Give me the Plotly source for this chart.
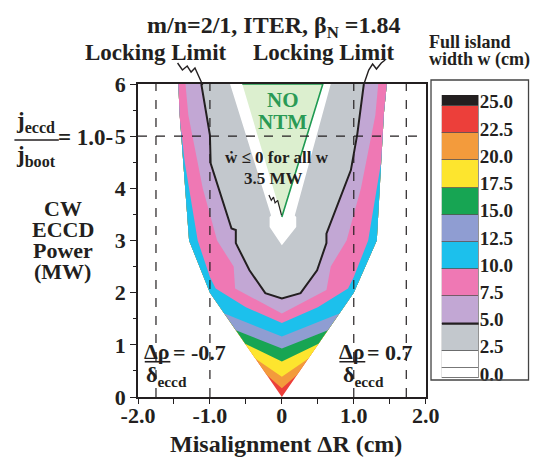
import plotly.graph_objects as go

# ---------------- data ----------------
# Island-width contour boundaries in (misalignment ΔR [cm], ECCD power [MW]).
# Inside each V-shaped boundary w is below the level; traced left-top -> centre -> right-top.
env_x = [-1.44, -1.42, -1.29, -1.00, 0.00, 1.00, 1.32, 1.42, 1.46]
env_y = [6.00, 5.40, 3.00, 2.00, 0.00, 2.00, 3.00, 5.45, 6.00]

c22_x = [-1.44, -1.42, -1.29, -1.00, -0.21, 0.00, 0.21, 1.00, 1.32, 1.42, 1.46]
c22_y = [6.00, 5.40, 3.00, 2.00, 0.42, 0.17, 0.42, 2.00, 3.00, 5.45, 6.00]
c20_x = [-1.44, -1.42, -1.29, -1.00, -0.37, 0.00, 0.37, 1.00, 1.32, 1.42, 1.46]
c20_y = [6.00, 5.40, 3.00, 2.00, 0.74, 0.39, 0.74, 2.00, 3.00, 5.45, 6.00]
c17_x = [-1.44, -1.42, -1.29, -1.00, -0.51, 0.00, 0.51, 1.00, 1.32, 1.42, 1.46]
c17_y = [6.00, 5.40, 3.00, 2.00, 1.02, 0.68, 1.02, 2.00, 3.00, 5.45, 6.00]
c15_x = [-1.44, -1.42, -1.29, -1.00, -0.64, 0.00, 0.64, 1.00, 1.32, 1.42, 1.46]
c15_y = [6.00, 5.40, 3.00, 2.00, 1.28, 0.93, 1.28, 2.00, 3.00, 5.45, 6.00]
c12_x = [-1.44, -1.42, -1.29, -1.00, -0.80, 0.00, 0.80, 1.00, 1.32, 1.42, 1.46]
c12_y = [6.00, 5.40, 3.00, 2.00, 1.60, 1.16, 1.60, 2.00, 3.00, 5.45, 6.00]
c10_x = [-1.44, -1.42, -1.35, -1.17, -1.00, -0.92, -0.50, 0.00, 0.50, 0.92, 1.00, 1.20, 1.38, 1.42, 1.46]
c10_y = [6.00, 5.35, 4.50, 3.00, 2.30, 2.08, 1.72, 1.42, 1.72, 2.08, 2.30, 3.00, 4.50, 5.45, 6.00]
c7_x = [-1.34, -1.30, -1.10, -0.90, -0.67, -0.65, 0.00, 0.62, 0.68, 0.90, 1.10, 1.30, 1.34]
c7_y = [6.00, 5.40, 4.00, 3.00, 2.50, 2.08, 1.60, 2.05, 2.50, 3.00, 4.00, 5.40, 6.00]
c5_x = [-1.12, -1.00, -0.99, -0.70, -0.64, -0.64, -0.45, -0.23, 0.00, 0.26, 0.49, 0.62, 0.62, 0.96, 1.05, 1.14]
c5_y = [6.00, 5.02, 4.48, 3.23, 3.20, 2.95, 2.43, 1.99, 1.89, 1.99, 2.43, 2.95, 3.13, 4.35, 5.05, 6.00]
c2_x = [-0.72, -0.15, -0.17, -0.17, 0.00, 0.20, 0.20, 0.18, 0.68]
c2_y = [6.00, 3.48, 3.45, 3.26, 2.91, 3.26, 3.45, 3.48, 6.00]

# "NO NTM" region
nontm_x = [-0.55, 0.57, 0.00]
nontm_y = [6.00, 6.00, 3.45]

# pointer from "3.5 MW" to the triangle tip
ptr_x = [-0.18, -0.147, -0.116, -0.094, -0.058, -0.027, -0.004]
ptr_y = [3.87, 3.77, 3.83, 3.72, 3.77, 3.61, 3.48]

# dashed guide lines
vguides = [-1.75, -1.0, 1.0, 1.73]
hguide = 5.0

# legend (colour key), bottom -> top
key_labels = ["0.0", "2.5", "5.0", "7.5", "10.0", "12.5", "15.0", "17.5", "20.0", "22.5", "25.0"]
key_colors = ["#ffffff", "#ffffff", "#c3c8cd", "#c2a7d4", "#ef78b4", "#1cc0ec",
              "#8f9dd2", "#17a553", "#fde52e", "#f39b3c", "#ec3f3a", "#231f20"]
key_sizes = [0.37, 0.63, 1, 1, 1, 1, 1, 1, 1, 1, 1, 0.4]

BLACK = "#231f20"
FONT = "Liberation Serif"

band_fill = [
    (env_x, env_y, "#ec3f3a"),
    (c22_x, c22_y, "#f39b3c"),
    (c20_x, c20_y, "#fde52e"),
    (c17_x, c17_y, "#17a553"),
    (c15_x, c15_y, "#8f9dd2"),
    (c12_x, c12_y, "#1cc0ec"),
    (c10_x, c10_y, "#ef78b4"),
    (c7_x, c7_y, "#c2a7d4"),
]

fig = go.Figure()
for xs, ys, col in band_fill:
    fig.add_trace(go.Scatter(x=xs, y=ys, fill="toself", fillcolor=col, mode="lines",
                             line=dict(width=0, color=col), hoverinfo="skip", showlegend=False))
fig.add_trace(go.Scatter(x=c5_x, y=c5_y, fill="toself", fillcolor="#c3c8cd", mode="lines",
                         line=dict(width=2, color=BLACK), showlegend=False))
fig.add_trace(go.Scatter(x=c2_x, y=c2_y, fill="toself", fillcolor="#ffffff", mode="lines",
                         line=dict(width=0, color="#ffffff"), showlegend=False))
fig.add_trace(go.Scatter(x=nontm_x, y=nontm_y, fill="toself", fillcolor="#dcefcf", mode="lines",
                         line=dict(width=1.6, color="#1f9a52"), showlegend=False))
fig.add_trace(go.Scatter(x=ptr_x, y=ptr_y, mode="lines", line=dict(width=1.2, color=BLACK),
                         showlegend=False))

# colour key as stacked bars on its own axes
for h, c in zip(key_sizes, key_colors):
    fig.add_trace(go.Bar(x=[0], y=[h], marker=dict(color=c, line=dict(color="#555555", width=0.8)),
                         width=1, xaxis="x2", yaxis="y2", showlegend=False, hoverinfo="skip"))
key_bounds = [0.0]
acc = key_sizes[0]
for h in key_sizes[1:-1]:
    acc += h
    key_bounds.append(round(acc, 3))
key_label_pos = [b + 0.15 for b in key_bounds]

for xv in vguides:
    fig.add_shape(type="line", x0=xv, x1=xv, y0=0, y1=6, xref="x", yref="y",
                  line=dict(color=BLACK, width=1.2, dash="dash"), layer="above")
fig.add_shape(type="line", x0=-2, x1=2, y0=hguide, y1=hguide, xref="x", yref="y",
              line=dict(color=BLACK, width=1.2, dash="dash"), layer="above")

# thick line at w = 5 in the key
fig.add_shape(type="line", x0=-0.5, x1=0.5, y0=key_bounds[2], y1=key_bounds[2],
              xref="x2", yref="y2", line=dict(color=BLACK, width=2.2))

L, R, T, B = 138, 1, 84, 62
W, H = 544, 459
PW = W - L - R
PH = H - T - B


def px(v):
    return (v - L) / PW


def py(v):
    return (H - B - v) / PH


fig.add_shape(type="rect", x0=px(441.5), x1=px(542.5), y0=py(380), y1=py(80), xref="paper",
              yref="paper", line=dict(color="#444444", width=1.3))

fig.add_shape(type="line", x0=-1.906, x1=-1.55, y0=0.676, y1=0.676, xref="x", yref="y",
              line=dict(color=BLACK, width=1.6))
fig.add_shape(type="line", x0=0.80, x1=1.16, y0=0.676, y1=0.676, xref="x", yref="y",
              line=dict(color=BLACK, width=1.6))
fig.add_shape(type="line", x0=px(10), x1=px(56), y0=py(140), y1=py(140), xref="paper",
              yref="paper", line=dict(color=BLACK, width=1.6))

sq_left = [(179, 63), (184, 70), (189, 66), (193, 72), (197, 68), (205, 85)]
sq_right = [(372, 84), (377, 70), (381, 64), (385, 69), (390, 63), (394, 60)]
for sq in (sq_left, sq_right):
    path = "M " + " L ".join(f"{px(a):.4f},{py(b):.4f}" for a, b in sq)
    fig.add_shape(type="path", path=path, xref="paper", yref="paper",
                  line=dict(color=BLACK, width=1.4))


def ann(text, x, y, size, xref="x", yref="y", color=BLACK, xanchor="center"):
    fig.add_annotation(text=text, x=x, y=y, xref=xref, yref=yref, showarrow=False,
                       xanchor=xanchor, yanchor="middle",
                       font=dict(family=FONT, size=size, color=color, weight="bold"))


ann("m/n=2/1, ITER, β<sub>N</sub> =1.84", px(279), py(27), 24, "paper", "paper")
ann("Locking Limit", px(157), py(52), 23, "paper", "paper")
ann("Locking Limit", px(331), py(52), 23, "paper", "paper")
ann("Full island", px(437), py(42), 18, "paper", "paper", xanchor="left")
ann("width w (cm)", px(437), py(60), 18, "paper", "paper", xanchor="left")
for i, t in enumerate(["CW", "ECCD", "Power", "(MW)"]):
    ann(t, px(60), py(208 + 21 * i), 22, "paper", "paper")
ann("j<sub>eccd</sub>", px(32), py(122), 23, "paper", "paper")
ann("j<sub>boot</sub>", px(32), py(156), 23, "paper", "paper")
ann("= 1.0-", px(84), py(137), 23, "paper", "paper")
ann("Misalignment ΔR (cm)", px(291), py(444), 24, "paper", "paper")

ann("NO", 0.01, 5.69, 21, color="#2a9a55")
ann("NTM", 0.01, 5.27, 21, color="#2a9a55")
ann("ẇ ≤ 0 for all w", -0.07, 4.60, 17)
ann("3.5 MW", -0.12, 4.19, 17)
ann("Δρ", -1.73, 0.88, 22)
ann("δ<sub>eccd</sub>", -1.60, 0.40, 22)
ann("= -0.7", -1.14, 0.86, 22)
ann("Δρ", 0.98, 0.88, 22)
ann("δ<sub>eccd</sub>", 1.14, 0.40, 22)
ann("= 0.7", 1.50, 0.86, 22)

axfont = dict(family=FONT, size=22, color=BLACK, weight="bold")
fig.update_layout(
    width=W, height=H, margin=dict(l=L, r=R, t=T, b=B),
    paper_bgcolor="white", plot_bgcolor="white", barmode="stack", bargap=0,
    xaxis=dict(domain=[0, px(436)], range=[-2, 2], tickvals=[-2, -1, 0, 1, 2],
               ticktext=["-2.0", "-1.0", "0", "1.0", "2.0"], ticks="outside", ticklen=5,
               tickcolor=BLACK, tickwidth=1.3, ticklabelstandoff=-7,
               minor=dict(tickvals=[-1.5, -0.5, 0.5, 1.5], ticks="outside", ticklen=5,
                          tickcolor=BLACK, tickwidth=1.3),
               showline=True, mirror=True, linecolor=BLACK, linewidth=1.6, showgrid=False,
               zeroline=False, tickfont=axfont),
    yaxis=dict(domain=[0, 1], range=[0, 6], tickvals=[0, 1, 2, 3, 4, 5, 6], ticks="outside",
               ticklen=6, tickcolor=BLACK, tickwidth=1.3,
               minor=dict(tickvals=[0.5, 1.5, 2.5, 3.5, 4.5, 5.5], ticks="outside", ticklen=3,
                          tickcolor=BLACK, tickwidth=1.0),
               showline=True, mirror=True, linecolor=BLACK, linewidth=1.6, showgrid=False,
               zeroline=False, tickfont=axfont),
    xaxis2=dict(domain=[px(452.7), px(491)], range=[-0.5, 0.5], anchor="y2", visible=False,
                fixedrange=True),
    yaxis2=dict(domain=[py(378), py(95)], range=[0, sum(key_sizes)], anchor="x2", side="right",
                tickvals=key_label_pos, ticktext=key_labels, ticks="", showgrid=False,
                zeroline=False, showline=False, fixedrange=True,
                tickfont=dict(family=FONT, size=19, color=BLACK, weight="bold")),
)

fig.write_html("out.html", config={"displayModeBar": False},
               post_script="document.body.style.margin='0';document.body.style.overflow='hidden';")
